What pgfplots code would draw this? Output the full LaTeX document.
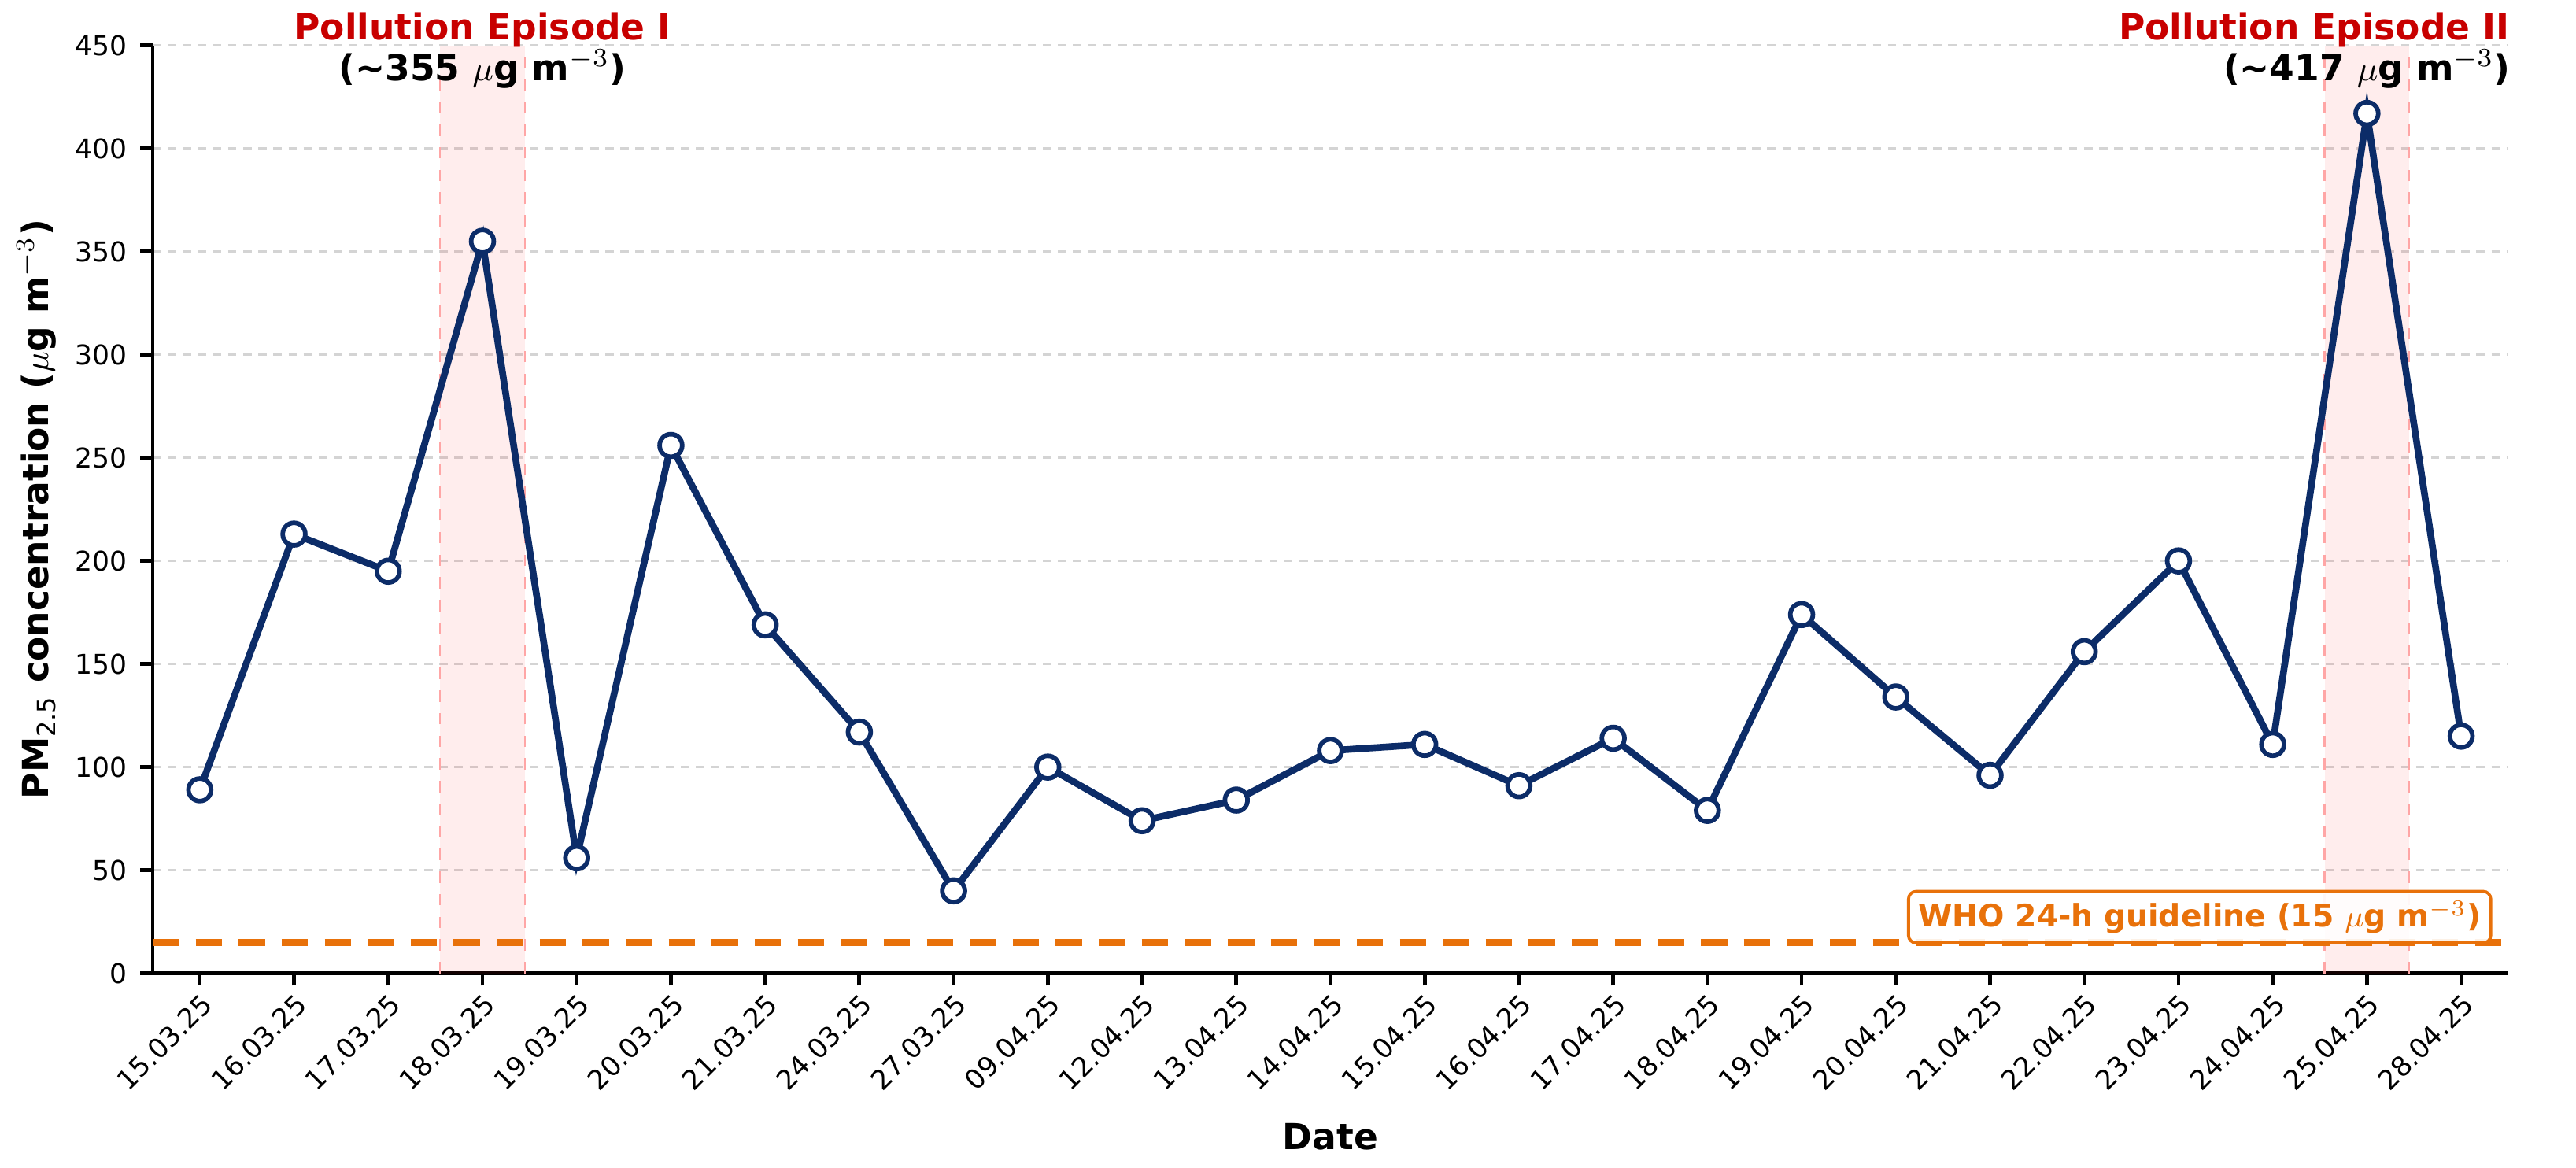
\documentclass[border=0pt]{standalone}
\usepackage{fontspec}
\setmainfont{DejaVu Sans}
\usepackage{pgfplots}
\pgfplotsset{compat=1.18}

\definecolor{navy}{HTML}{0C2C68}
\definecolor{whoorange}{HTML}{E8710A}
\definecolor{episodered}{HTML}{C80000}

\begin{document}
\begin{tikzpicture}
% fixed page size, same proportions as the reference
\useasboundingbox (-1.4225cm,-1.813cm) rectangle (22.578cm,9.068cm);
\begin{axis}[
    width=21.947cm, height=8.645cm, scale only axis,
    xmin=-0.5, xmax=24.5, ymin=0, ymax=450,
    axis lines=left,
    axis line style={-, line width=1pt},
    tick align=outside,
    major tick length=3.3pt,
    tick style={line width=1pt, black},
    xtick={0,...,24},
    xticklabels={15.03.25,16.03.25,17.03.25,18.03.25,19.03.25,20.03.25,21.03.25,24.03.25,27.03.25,09.04.25,12.04.25,13.04.25,14.04.25,15.04.25,16.04.25,17.04.25,18.04.25,19.04.25,20.04.25,21.04.25,22.04.25,23.04.25,24.04.25,25.04.25,28.04.25},
    ytick={0,50,...,450},
    ymajorgrids,
    grid style={dash pattern=on 2.2pt off 1.8pt, black!17, line width=0.6pt},
    tick label style={font=\fontsize{7.2}{8}\selectfont},
    /pgf/number format/assume math mode=true,
    xticklabel style={rotate=45, anchor=north east, inner sep=1pt},
    xlabel={Date},
    ylabel={PM\textsubscript{\mdseries 2.5} concentration ($\mu$g m$^{-3}$)},
    label style={font=\fontsize{9.5}{11}\selectfont\bfseries},
    xlabel style={at={(axis description cs:0.5,-0.1758)}, anchor=center},
    ylabel style={at={(axis description cs:-0.0494,0.5)}, anchor=center},
    clip=false,
]

% episode shading
\addplot[draw=none, fill=red, fill opacity=0.07] coordinates {(2.55,0) (3.45,0) (3.45,450) (2.55,450)} -- cycle;
\addplot[draw=none, fill=red, fill opacity=0.07] coordinates {(22.55,0) (23.45,0) (23.45,450) (22.55,450)} -- cycle;
\addplot[red!35, dashed, line width=0.5pt] coordinates {(2.55,0) (2.55,450)};
\addplot[red!35, dashed, line width=0.5pt] coordinates {(3.45,0) (3.45,450)};
\addplot[red!35, dashed, line width=0.5pt] coordinates {(22.55,0) (22.55,450)};
\addplot[red!35, dashed, line width=0.5pt] coordinates {(23.45,0) (23.45,450)};

% WHO guideline
\addplot[whoorange, line width=2pt, dash pattern=on 7pt off 4.4pt] coordinates {(-0.5,15) (24.5,15)};

% PM2.5 series
\addplot[navy, line width=1.8pt, mark=*, mark size=3pt,
    mark options={fill=white, draw=navy, line width=1.2pt}] coordinates {
(0,89) (1,213) (2,195) (3,355) (4,56) (5,256) (6,169) (7,117) (8,40)
(9,100) (10,74) (11,84) (12,108) (13,111) (14,91) (15,114) (16,79)
(17,174) (18,134) (19,96) (20,156) (21,200) (22,111) (23,417) (24,115)
};

\node[font=\fontsize{9.5}{11}\selectfont\bfseries, text=episodered] at (axis cs:3,457.6) {Pollution Episode I};
\node[font=\fontsize{9.5}{11}\selectfont\bfseries] at (axis cs:3,438.5) {(\textasciitilde355 $\mu$g m$^{-3}$)};
\node[font=\fontsize{9.5}{11}\selectfont\bfseries, text=episodered, anchor=east, inner sep=0pt] at (axis cs:24.52,457.6) {Pollution Episode II};
\node[font=\fontsize{9.5}{11}\selectfont\bfseries] at (axis cs:23,438.5) {(\textasciitilde417 $\mu$g m$^{-3}$)};

\node[draw=whoorange, fill=white, fill opacity=0.9, text opacity=1, rounded corners=2pt,
    line width=0.8pt, text=whoorange, font=\fontsize{8.2}{10}\selectfont\bfseries,
    anchor=south east, inner sep=2.6pt] at (axis cs:24.33,14) {WHO 24-h guideline (15 $\mu$g m$^{-3}$)};
\end{axis}
\end{tikzpicture}
\end{document}
